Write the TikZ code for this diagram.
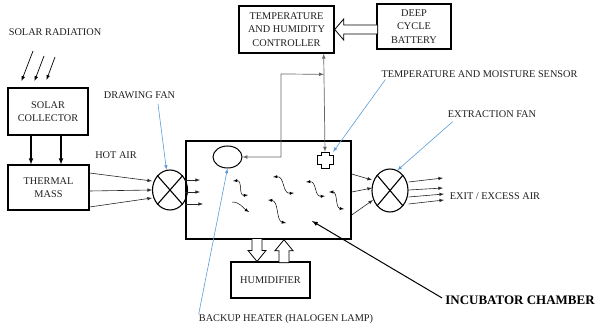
\documentclass[tikz,border=0pt]{standalone}
\usepackage{fontspec}
\setmainfont{Liberation Serif}
\usetikzlibrary{positioning}
\usetikzlibrary{shapes.geometric}
\usetikzlibrary{arrows}
\usetikzlibrary{calc}
\tikzset{>=latex}
\definecolor{callout}{RGB}{91,155,213}
\newcommand{\figfont}{\fontsize{10.3}{13.3}\selectfont}
\tikzstyle{blk} = [rectangle, draw=black, line width=1.1pt, align=center, text=black!88, inner sep=1pt, font=\figfont]
\tikzstyle{lbl} = [text=black!88, inner sep=0pt, font=\figfont]
\tikzstyle{fan} = [ellipse, draw=black, line width=1.1pt, inner sep=0pt]
\tikzstyle{flow} = [->, draw=black!85, line width=0.6pt]
\tikzstyle{wire} = [<->, draw=black!60, line width=0.7pt]
\tikzstyle{note} = [->, draw=callout, line width=0.6pt]
\tikzstyle{hollow} = [draw=black, line width=0.8pt, fill=white]
\tikzstyle{wavy} = [<->, draw=black, line width=0.5pt]

\begin{document}
\begin{tikzpicture}[x=1pt, y=-1pt]
\useasboundingbox (0,0) rectangle (597,331);

\node [lbl] (SR) at (55,32) {SOLAR RADIATION};
\node [blk, minimum width=80pt, minimum height=47pt] (SC) at (48,111.5) {SOLAR\\COLLECTOR};
\node [blk, minimum width=81pt, minimum height=45pt] (TM) at (48.5,187.5) {THERMAL\\MASS};
\node [lbl] (HA) at (116,155) {HOT AIR};
\node [lbl] (DFL) at (139.5,95) {DRAWING FAN};
\node [blk, line width=1.4pt, minimum width=165pt, minimum height=98pt] (CH) at (268.5,190) {};
\node [fan, minimum width=35pt, minimum height=40pt] (DF) at (170,190) {};
\node [fan, minimum width=36pt, minimum height=43pt] (EF) at (390,190.5) {};
\node [blk, line width=1.4pt, minimum width=95pt, minimum height=47pt] (CTRL) at (286.5,29.5) {TEMPERATURE\\AND HUMIDITY\\CONTROLLER};
\node [blk, line width=1.4pt, minimum width=74pt, minimum height=45pt] (BAT) at (414,26.5) {DEEP\\CYCLE\\BATTERY};
\node [blk, minimum width=79pt, minimum height=36pt] (HUM) at (270.5,280) {HUMIDIFIER};
\node [ellipse, draw=black, line width=1pt, minimum width=29pt, minimum height=22pt, inner sep=0pt] (HTR) at (227.5,157) {};
\node [inner sep=0pt, minimum width=16pt, minimum height=16pt] (SEN) at (325,160) {};
\node [lbl] (SENL) at (479.5,74) {TEMPERATURE AND MOISTURE SENSOR};
\node [lbl] (EFL) at (492,114) {EXTRACTION FAN};
\node [lbl] (EXL) at (495,196) {EXIT / EXCESS AIR};
\node [lbl] (BHL) at (286,319) {BACKUP HEATER (HALOGEN LAMP)};
\node [lbl, text=black, font=\fontsize{13}{15}\bfseries] (ICL) at (520,300) {INCUBATOR CHAMBER};

\coordinate (r1) at (33,51);
\coordinate (r2) at (44,56);
\coordinate (r3) at (55,57);
\coordinate (dfl) at (158,104);
\coordinate (ctrlin) at ($(CTRL.south east)+(-11,0)$);
\coordinate (jn) at ($(ctrlin)!0.21!(SEN.north)$);
\coordinate (icl) at (312,221);

\draw [->, line width=0.7pt] (r1) -- (21.5,81);
\draw [->, line width=0.7pt] (r2) -- (34.5,81);
\draw [->, line width=0.7pt] (r3) -- (46.5,80);
\draw [->, line width=1.1pt] (SC.south -| 31,0) -- (TM.north -| 31,0);
\draw [->, line width=1.1pt] (SC.south -| 61,0) -- (TM.north -| 61,0);

\draw [flow] (TM.east |- 0,173) -- (152,181);
\draw [flow] (TM.east |- 0,191) -- (152,190);
\draw [flow] (TM.east |- 0,207) -- (152,198);
\draw [line width=1.1pt] (DF.north west) -- (DF.south east);
\draw [line width=1.1pt] (DF.north east) -- (DF.south west);
\draw [flow] (CH.west |- 0,180) -- (200,180);
\draw [flow] (CH.west |- 0,192) -- (200,192);
\draw [flow] (CH.west |- 0,204) -- (203,204);

\draw [flow] (CH.east |- 0,174) -- (372,180);
\draw [flow] (CH.east |- 0,192) -- (372,188);
\draw [flow] (CH.east |- 0,215) -- (373,200);
\draw [line width=1.1pt] (EF.north west) -- (EF.south east);
\draw [line width=1.1pt] (EF.north east) -- (EF.south west);
\draw [flow] (EF.east |- 0,182) -- (443,178);
\draw [flow] (EF.east |- 0,190) -- (443,188);
\draw [flow] (EF.east |- 0,197) -- (444,194);
\draw [flow] (EF.east |- 0,204) -- (444,200);

\draw [hollow] (CTRL.east) -- ++(9,-10.5) -- ++(0,6) -- ++(34,0) -- ++(0,9) -- ++(-34,0) -- ++(0,6) -- cycle;
\draw [hollow] (HUM.north -| 257,0) -- ++(-9,-11) -- ++(4,0) -- ++(0,-12) -- ++(10,0) -- ++(0,12) -- ++(4,0) -- cycle;
\draw [hollow] (CH.south -| 284,0) -- ++(9,11) -- ++(-4,0) -- ++(0,12) -- ++(-10,0) -- ++(0,-12) -- ++(-4,0) -- cycle;

\draw [line width=0.8pt] (SEN.center) ++(-4,-8) -- ++(8,0) -- ++(0,3) -- ++(4,0) -- ++(0,9) -- ++(-4,0) -- ++(0,4) -- ++(-8,0) -- ++(0,-4) -- ++(-4,0) -- ++(0,-9) -- ++(4,0) -- cycle;
\draw [wire] (ctrlin) -- (SEN.north);
\draw [wire] (HTR.east) -- (281,157) -- (281,74) -- (jn);

\draw [wavy] (233,181) .. controls +(10,-1) and +(-10,1) .. (248,195);
\draw [wavy] (273,177) .. controls +(12,-1) and +(-12,1) .. (294,193);
\draw [wavy] (306,182) .. controls +(11,-1) and +(-11,1) .. (325,196);
\draw [wavy] (329,192) .. controls +(9,0) and +(-9,-1) .. (344,209);
\draw [->, line width=0.5pt] (232,202) .. controls +(8,0) and +(-6,-4) .. (249,212);
\draw [wavy] (268,200) .. controls +(11,1) and +(-10,-2) .. (286,223);

\draw [note] (dfl) -- (DF.100);
\draw [note] (SENL.south west) ++(4,2) -- (SEN.north east);
\draw [note] (EFL.south west) ++(5,4) -- (EF.70);
\draw [note] (BHL.north west) -- (HTR.south);
\draw [->, line width=1pt] (ICL.west) ++(-3,-2) -- (icl);
\end{tikzpicture}
\end{document}
